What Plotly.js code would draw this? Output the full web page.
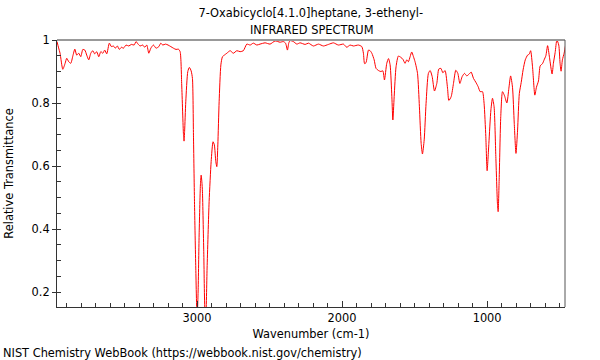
<!DOCTYPE html>
<html>
<head>
<meta charset="utf-8">
<script src="https://cdn.plot.ly/plotly-3.0.1.min.js"></script>
<style>html,body{margin:0;padding:0;background:#fff;}#chart{width:600px;height:360px;}</style>
</head>
<body>
<div id="chart"></div>
<script>
const chartTitle = "7-Oxabicyclo[4.1.0]heptane, 3-ethenyl-";
const chartSubtitle = "INFRARED SPECTRUM";
const xLabel = "Wavenumber (cm-1)";
const yLabel = "Relative Transmittance";
const footer = "NIST Chemistry WebBook (https://webbook.nist.gov/chemistry)";

const wavenumber = [
 3966,3955,3945,3926,3910,3899,3885,3871,3857,3843,3830,3816,3802,3788,3774,3761,3747,3733,3719,3706,
 3692,3678,3664,3650,3637,3623,3605,3591,3577,3564,3550,3536,3522,3508,3490,3471,3453,3434,3421,3407,
 3393,3375,3361,3347,3333,3319,3301,3283,3264,3250,3237,3218,3200,3181,3163,3145,3129,3117,3106,3094,
 3090,3086,3078,3064,3053,3041,3032,3025,3018,3009,3000,2993,2986,2977,2972,2967,2963,2954,2946,2940,
 2931,2917,2903,2890,2881,2871,2864,2857,2848,2836,2825,2812,2795,2772,2750,2726,2703,2681,2657,2634,
 2612,2588,2566,2531,2497,2462,2428,2405,2390,2377,2368,2359,2336,2312,2290,2255,2232,2198,2163,2129,
 2094,2060,2026,1991,1968,1945,1922,1888,1864,1853,1845,1835,1818,1807,1795,1779,1766,1749,1733,1719,
 1708,1692,1680,1669,1657,1650,1641,1628,1612,1595,1581,1566,1554,1543,1531,1520,1508,1497,1480,1467,
 1455,1446,1434,1421,1405,1393,1379,1363,1347,1333,1319,1305,1290,1273,1264,1248,1232,1216,1202,1188,
 1172,1156,1140,1124,1110,1094,1078,1062,1048,1032,1021,1009,1000,988,974,963,952,940,929,924,
 917,906,894,880,864,850,838,825,813,801,790,778,765,752,737,721,710,700,687,671,
 660,646,634,618,607,595,583,570,552,543,531,519,506,497,490,481,469,457
];
const transmittance = [
 0.995,0.975,0.958,0.907,0.926,0.942,0.931,0.926,0.949,0.971,0.952,0.958,0.947,0.970,0.968,0.952,0.937,0.958,0.966,0.956,
 0.963,0.947,0.963,0.958,0.968,0.956,0.990,0.979,0.981,0.974,0.981,0.970,0.977,0.974,0.984,0.981,0.986,0.984,0.995,0.987,
 0.981,0.984,0.977,0.984,0.958,0.974,0.984,0.974,0.979,0.990,0.984,0.987,0.984,0.979,0.974,0.970,0.971,0.963,0.857,0.700,
 0.679,0.710,0.804,0.900,0.913,0.902,0.878,0.698,0.487,0.276,0.110,0.200,0.381,0.540,0.571,0.550,0.518,0.328,0.140,0.120,
 0.276,0.487,0.614,0.677,0.667,0.614,0.598,0.667,0.804,0.921,0.947,0.952,0.958,0.966,0.958,0.966,0.963,0.966,0.987,0.984,
 0.990,0.984,0.987,0.991,0.987,0.997,0.993,0.995,0.990,0.968,0.990,0.998,0.995,0.987,0.991,0.986,0.990,0.981,0.987,0.981,
 0.986,0.991,0.984,0.987,0.977,0.984,0.981,0.984,0.979,0.958,0.925,0.928,0.968,0.966,0.958,0.937,0.910,0.903,0.900,0.902,
 0.873,0.926,0.941,0.921,0.820,0.746,0.820,0.915,0.949,0.945,0.939,0.926,0.937,0.931,0.947,0.962,0.947,0.931,0.894,0.788,
 0.672,0.638,0.683,0.799,0.894,0.903,0.884,0.838,0.862,0.908,0.910,0.896,0.903,0.847,0.808,0.820,0.862,0.904,0.894,0.862,
 0.884,0.894,0.886,0.892,0.898,0.878,0.866,0.852,0.836,0.836,0.799,0.693,0.585,0.672,0.778,0.815,0.788,0.630,0.482,0.455,
 0.556,0.757,0.836,0.823,0.800,0.847,0.886,0.850,0.736,0.640,0.714,0.830,0.865,0.905,0.937,0.952,0.955,0.966,0.915,0.825,
 0.850,0.870,0.918,0.925,0.937,0.950,0.982,0.945,0.892,0.926,0.960,1.000,0.984,0.926,0.901,0.937,0.958,0.990
];
const xTickValues = [3000, 2000, 1000];
const yTickValues = [0.2, 0.4, 0.6, 0.8, 1];

const font = {family: "DejaVu Sans", size: 11.4, color: "#000"};

const trace = {
  type: "scatter", mode: "lines",
  x: wavenumber, y: transmittance,
  line: {color: "#ff0000", width: 1, shape: "spline", smoothing: 0.6},
  hoverinfo: "skip", showlegend: false
};

const layout = {
  width: 600, height: 360,
  margin: {l: 57, r: 35, t: 40, b: 53, pad: 0},
  paper_bgcolor: "#fff", plot_bgcolor: "#fff",
  font: font,
  title: {text: chartTitle, font: font, x: 0.518, xanchor: "center", y: 1 - 13/360, yanchor: "middle", yref: "container"},
  xaxis: {
    range: [3966, 463], showgrid: false, zeroline: false,
    showline: true, linecolor: "#333", linewidth: 1,
    tickmode: "array", tickvals: xTickValues, ticktext: xTickValues.map(String),
    ticks: "inside", ticklen: 6, tickcolor: "#333",
    minor: {dtick: 100, tick0: 0, ticks: "inside", ticklen: 4, tickcolor: "#333", showgrid: false},
    tickfont: font,
    title: {text: xLabel, font: font, standoff: 6}
  },
  yaxis: {
    range: [0.1524, 1.0], showgrid: false, zeroline: false,
    showline: true, linecolor: "#333", linewidth: 1,
    tickmode: "array", tickvals: yTickValues, ticktext: ["0.2","0.4","0.6","0.8","1"],
    ticks: "outside", ticklen: 4, tickcolor: "#333",
    minor: {dtick: 0.05, tick0: 0, ticks: "inside", ticklen: 4, tickcolor: "#333", showgrid: false},
    tickfont: font,
    title: {text: yLabel, font: font, standoff: 15}
  },
  shapes: [
    {type: "line", xref: "paper", yref: "paper", x0: 0, x1: 1, y0: 1, y1: 1, line: {color: "#999", width: 2}},
    {type: "line", xref: "paper", yref: "paper", x0: 1, x1: 1, y0: 0, y1: 1, line: {color: "#555", width: 1}}
  ],
  annotations: [
    {text: chartSubtitle, xref: "paper", yref: "paper", x: 0.5, y: 1 + 10/267, xanchor: "center", yanchor: "middle", showarrow: false, font: font},
    {text: footer, xref: "paper", yref: "paper", x: (1 - 57)/508, y: (307 - 353)/267, xanchor: "left", yanchor: "middle", showarrow: false, font: font}
  ]
};

Plotly.newPlot("chart", [trace], layout, {staticPlot: true, displayModeBar: false});
</script>
</body>
</html>
